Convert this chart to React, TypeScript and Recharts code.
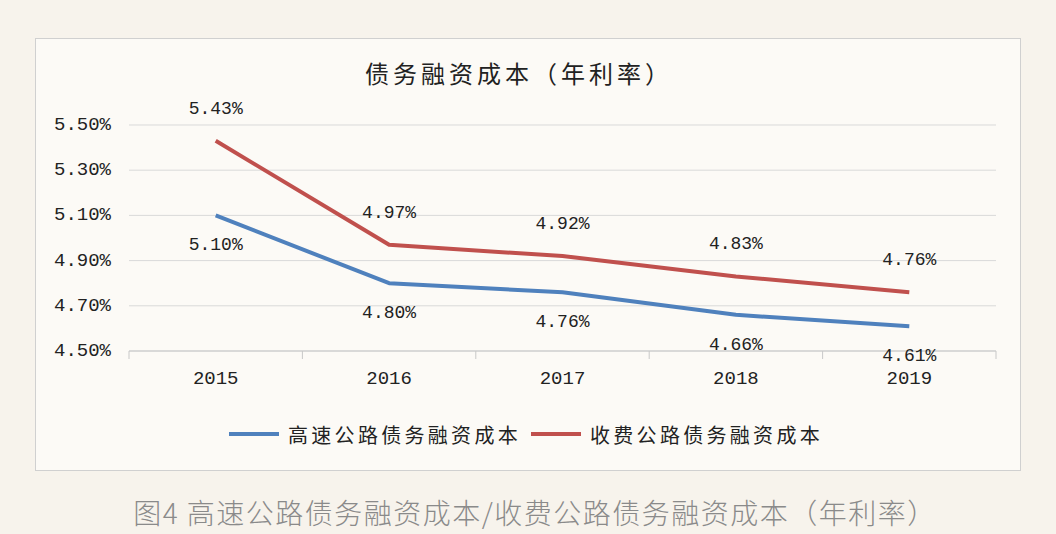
import React from 'react';
import { LineChart, Line, XAxis, YAxis, CartesianGrid, Legend, LabelList } from 'recharts';

const years = ['2015', '2016', '2017', '2018', '2019'];
const highwayCost = [5.1, 4.8, 4.76, 4.66, 4.61];
const tollCost = [5.43, 4.97, 4.92, 4.83, 4.76];
const yTicks = [4.5, 4.7, 4.9, 5.1, 5.3, 5.5];
const seriesNames = ['高速公路债务融资成本', '收费公路债务融资成本'];
const seriesColors = ['#4f81bd', '#c0504d'];

const data = years.map((year, i) => ({ year, highway: highwayCost[i], toll: tollCost[i] }));

const CHART_W = 986;
const CHART_H = 433;
const MARGIN = { top: 86, right: 26, left: 0, bottom: 23 };
const Y_AXIS_W = 93;
const PLOT_W = CHART_W - MARGIN.left - MARGIN.right - Y_AXIS_W;
const BAND = PLOT_W / years.length;

const monoFont = '"Liberation Mono", "DejaVu Sans Mono", monospace';
const cjkFont = '"Noto Sans CJK SC", "Noto Sans", sans-serif';

const XTick = (props: any) => {
  const { x, y, payload, index } = props;
  const left = x - BAND / 2;
  return (
    <g>
      <line x1={left} y1={y} x2={left} y2={y + 8} stroke="#c8c8c8" />
      {index === years.length - 1 && (
        <line x1={x + BAND / 2} y1={y} x2={x + BAND / 2} y2={y + 8} stroke="#c8c8c8" />
      )}
      <text x={x} y={y + 28} textAnchor="middle" dominantBaseline="central"
        fontFamily={monoFont} fontSize={19} fill="#222">
        {payload.value}
      </text>
    </g>
  );
};

const YTick = (props: any) => {
  const { x, y, payload } = props;
  return (
    <text x={x} y={y} textAnchor="end" dominantBaseline="central"
      fontFamily={monoFont} fontSize={19} fill="#222">
      {payload.value.toFixed(2)}%
    </text>
  );
};

const makeLabel = (dy: number) => (p: any) => (
  <text x={p.x} y={p.y + dy} textAnchor="middle" dominantBaseline="central"
    fontFamily={monoFont} fontSize={18} fill="#222">
    {Number(p.value).toFixed(2)}%
  </text>
);

const renderLegend = () => (
  <div style={{ display: 'flex', alignItems: 'center', height: 30, paddingLeft: 193 }}>
    {seriesNames.map((name, i) => (
      <div key={name} style={{ display: 'flex', alignItems: 'center', marginRight: 10 }}>
        <div style={{ width: 50, height: 4, background: seriesColors[i], marginRight: 9 }} />
        <span style={{ fontFamily: cjkFont, fontSize: 20, letterSpacing: 3.3, color: '#222' }}>{name}</span>
      </div>
    ))}
  </div>
);

export default function App() {
  return (
    <div style={{ position: 'absolute', left: 0, top: 0, width: 1056, height: 534, background: '#f7f3ec' }}>
      <div style={{
        position: 'absolute', left: 35, top: 38, width: CHART_W, height: CHART_H,
        background: '#fcfaf6', border: '1px solid #d0d0d0', boxSizing: 'border-box',
      }}>
        <div style={{
          position: 'absolute', left: 283, top: 18, width: 400, lineHeight: '32px', textAlign: 'center',
          fontFamily: cjkFont, fontSize: 24, letterSpacing: 4, color: '#222',
        }}>
          债务融资成本（年利率）
        </div>
        <LineChart width={CHART_W} height={CHART_H} data={data} margin={MARGIN}>
          <CartesianGrid vertical={false} stroke="#d9d9d9" />
          <XAxis dataKey="year" height={68} tick={<XTick />} tickLine={false} tickSize={0}
            tickMargin={0} axisLine={{ stroke: '#c8c8c8' }} interval={0}
            padding={{ left: BAND / 2, right: BAND / 2 }} />
          <YAxis width={Y_AXIS_W} domain={[4.5, 5.5]} ticks={yTicks} tick={<YTick />}
            axisLine={false} tickLine={false} tickSize={0} tickMargin={18} />
          <Legend verticalAlign="bottom" height={30} content={renderLegend} />
          <Line type="linear" dataKey="highway" name={seriesNames[0]} stroke={seriesColors[0]}
            strokeWidth={4} strokeLinejoin="round" dot={false} isAnimationActive={false}>
            <LabelList dataKey="highway" content={makeLabel(30)} />
          </Line>
          <Line type="linear" dataKey="toll" name={seriesNames[1]} stroke={seriesColors[1]}
            strokeWidth={4} strokeLinejoin="round" dot={false} isAnimationActive={false}>
            <LabelList dataKey="toll" content={makeLabel(-32)} />
          </Line>
        </LineChart>
      </div>
      <div style={{
        position: 'absolute', left: 8, top: 494, width: 1054, lineHeight: '36px', textAlign: 'center',
        fontFamily: cjkFont, fontSize: 28, letterSpacing: 1.5, fontWeight: 300, color: '#8a8a8a',
      }}>
        图4 高速公路债务融资成本/收费公路债务融资成本（年利率）
      </div>
    </div>
  );
}
